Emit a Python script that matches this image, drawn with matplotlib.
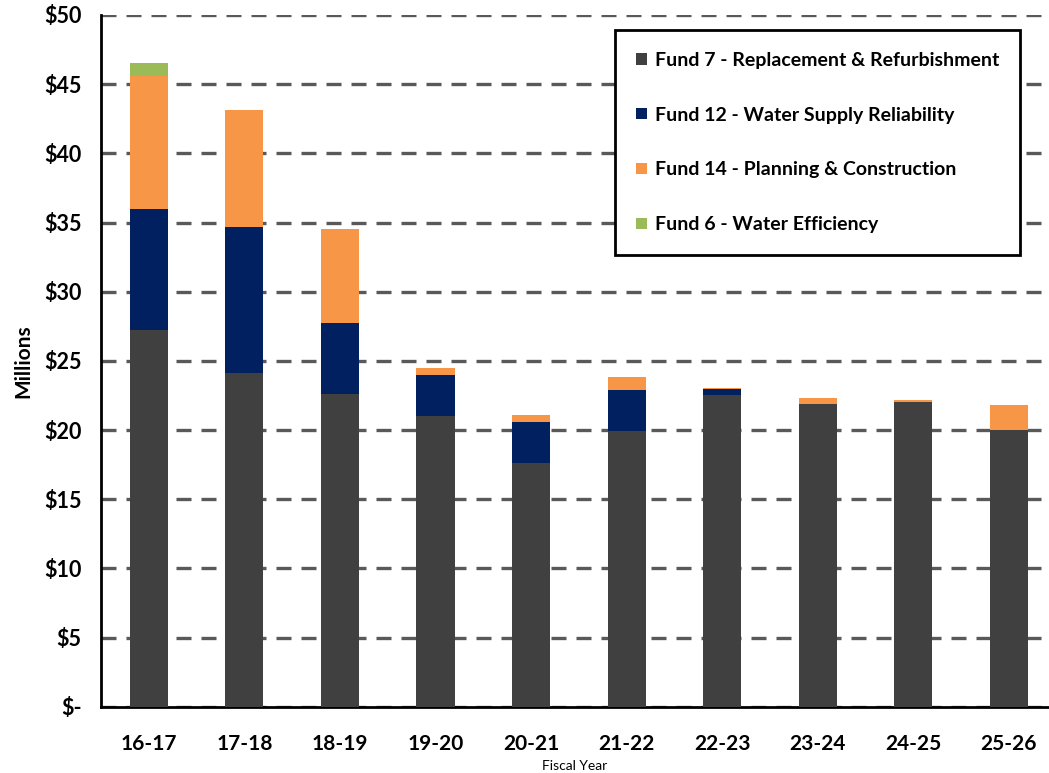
import matplotlib.pyplot as plt
import numpy as np

# Fiscal years and fund amounts ($ millions)
years = ["16-17", "17-18", "18-19", "19-20", "20-21", "21-22", "22-23", "23-24", "24-25", "25-26"]
fund7 = [27.2, 24.1, 22.6, 21.0, 17.6, 19.9, 22.5, 21.9, 22.0, 20.0]
fund12 = [8.8, 10.6, 5.1, 3.0, 3.0, 3.0, 0.5, 0.0, 0.0, 0.0]
fund14 = [9.6, 8.4, 6.8, 0.5, 0.5, 0.9, 0.05, 0.4, 0.2, 1.8]
fund6 = [0.9, 0.0, 0.0, 0.0, 0.0, 0.0, 0.0, 0.0, 0.0, 0.0]

labels = ["Fund 7 - Replacement & Refurbishment",
          "Fund 12 - Water Supply Reliability",
          "Fund 14 - Planning & Construction",
          "Fund 6 - Water Efficiency"]
colors = ["#404040", "#002060", "#F79646", "#9BBB59"]

plt.rcParams['font.family'] = ['Lato', 'DejaVu Sans']

fig = plt.figure(figsize=(10.49, 7.73), dpi=100)
ax = fig.add_axes([0.0963, 0.0858, 0.9037, 0.8948])

x = np.arange(len(years))
bottom = np.zeros(len(years))
for vals, lab, col in zip([fund7, fund12, fund14, fund6], labels, colors):
    ax.bar(x, vals, 0.40, bottom=bottom, color=col, label=lab, zorder=3)
    bottom += np.array(vals)

# Axes styling
ax.set_ylim(0, 50)
ax.set_xlim(-0.5, 9.42)
ax.set_yticks(range(0, 51, 5))
ax.set_yticklabels(["$-"] + ["$%d" % v for v in range(5, 51, 5)],
                   fontsize=15.5, fontweight='bold')
ax.set_xticks(x)
ax.set_xticklabels(years, fontsize=15, fontweight='bold')
ax.tick_params(axis='both', length=0)
ax.tick_params(axis='y', pad=14)
ax.tick_params(axis='x', pad=20)
ax.yaxis.grid(True, linestyle=(0, (4.5, 3)), color='#595959', linewidth=2.4, zorder=0)
ax.set_axisbelow(True)
for s in ['top', 'right']:
    ax.spines[s].set_visible(False)
ax.spines['left'].set_linewidth(2)
ax.spines['bottom'].set_linewidth(2)

ax.set_ylabel("Millions", fontsize=15, fontweight='bold', labelpad=8)
ax.set_xlabel("Fiscal Year", fontsize=10, labelpad=4)

leg = ax.legend(loc='upper left', bbox_to_anchor=(0.542, 0.978),
                prop={'weight': 'bold', 'size': 14}, frameon=True, fancybox=False,
                labelspacing=1.95, handlelength=0.55, handleheight=0.55,
                handletextpad=0.4, borderpad=1.1, borderaxespad=0)
leg.get_frame().set_edgecolor('black')
leg.get_frame().set_linewidth(2)
leg.get_frame().set_alpha(1)

fig.savefig("out.png", dpi=100)
